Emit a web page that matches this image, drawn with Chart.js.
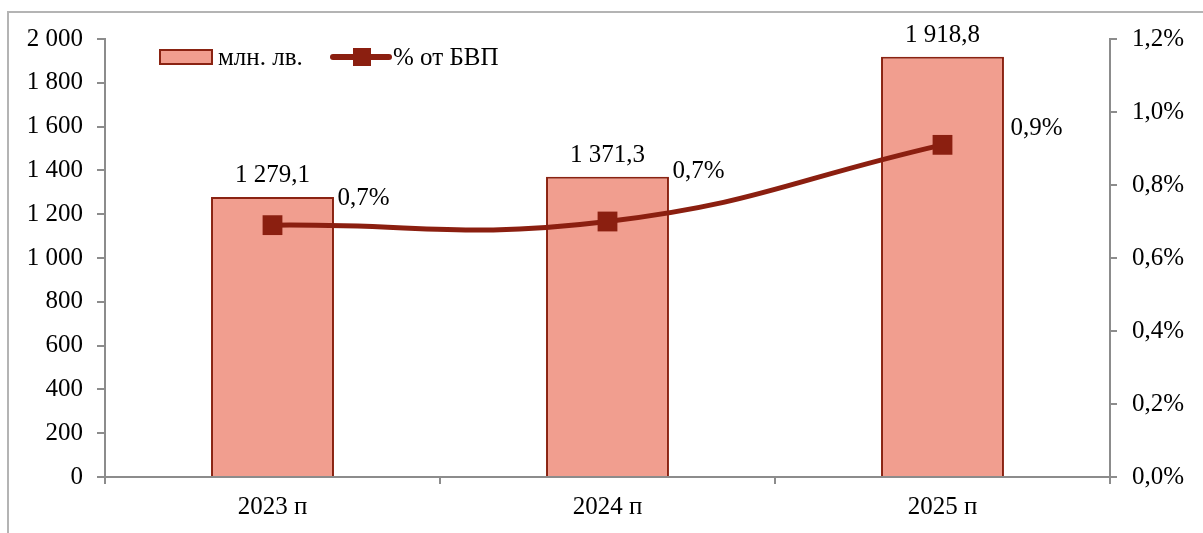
<!DOCTYPE html>
<html>
<head>
<meta charset="utf-8">
<script src="https://cdn.jsdelivr.net/npm/chart.js@4/dist/chart.umd.min.js"></script>
<style>
  html, body { margin: 0; padding: 0; background: #fff; }
  #wrap { width: 1203px; height: 533px; position: relative; }
</style>
</head>
<body>
<div id="wrap"><canvas id="chart"></canvas></div>
<script>
// data
var categories = ["2023 п", "2024 п", "2025 п"];
var amountValues = [1279.1, 1371.3, 1918.8];   // млн. лв.
var gdpShare = [0.69, 0.70, 0.91];              // % от БВП
var gdpLabels = ["0,7%", "0,7%", "0,9%"];
var seriesNames = ["млн. лв.", "% от БВП"];

var FONT = "'Liberation Serif', 'Times New Roman', serif";
var FSIZE = 25;
var barFill = "#F19E8F";
var barEdge = "#8A2312";
var lineColor = "#8B1F10";
var axisColor = "#8c8c8c";

function fmtThousands(v) {
    var s = Math.round(v).toString();
    return s.replace(/\B(?=(\d{3})+(?!\d))/g, " ");
}
function fmtAmount(v) {
    var parts = v.toFixed(1).split(".");
    return fmtThousands(parseInt(parts[0])) + "," + parts[1];
}

// where the % labels sit relative to their points (manually placed in the original)
var pctLabelShift = [[65, -27], [65, -50], [68, -16]];

var extras = {
    id: "extras",
    beforeDraw: function(chart) {
        var ctx = chart.ctx;
        ctx.save();
        ctx.strokeStyle = "#b4b4b4";
        ctx.lineWidth = 2;
        ctx.beginPath();
        ctx.moveTo(8, 533);
        ctx.lineTo(8, 12);
        ctx.lineTo(1203, 12);
        ctx.stroke();
        ctx.restore();
    },
    afterDatasetsDraw: function(chart) {
        var ctx = chart.ctx;
        var area = chart.chartArea;
        ctx.save();
        ctx.font = FSIZE + "px " + FONT;
        ctx.fillStyle = "#000";

        // bar value labels
        var bars = chart.getDatasetMeta(0).data;
        ctx.textAlign = "center";
        ctx.textBaseline = "middle";
        bars.forEach(function(el, i) {
            ctx.fillText(fmtAmount(amountValues[i]), el.x, el.y - 21);
        });

        // line value labels
        var pts = chart.getDatasetMeta(1).data;
        ctx.textAlign = "left";
        pts.forEach(function(el, i) {
            ctx.fillText(gdpLabels[i], el.x + pctLabelShift[i][0], el.y + pctLabelShift[i][1]);
        });

        // legend inside the plot
        var lx = area.left + 55, ly = area.top + 18;
        ctx.fillStyle = barFill;
        ctx.strokeStyle = barEdge;
        ctx.lineWidth = 2;
        ctx.fillRect(lx, ly - 7, 52, 14);
        ctx.strokeRect(lx, ly - 7, 52, 14);
        ctx.fillStyle = "#000";
        ctx.fillText(seriesNames[0], lx + 58, ly + 1);

        var mx = lx + 173;
        ctx.strokeStyle = lineColor;
        ctx.lineWidth = 6;
        ctx.lineCap = "round";
        ctx.beginPath();
        ctx.moveTo(mx, ly);
        ctx.lineTo(mx + 56, ly);
        ctx.stroke();
        ctx.fillStyle = lineColor;
        ctx.fillRect(mx + 20, ly - 9, 18, 18);
        ctx.fillStyle = "#000";
        ctx.fillText(seriesNames[1], mx + 60, ly + 1);
        ctx.restore();
    }
};

var tickFont = { family: FONT, size: FSIZE };

var config = {
    data: {
        labels: categories,
        datasets: [
            {
                type: "bar",
                label: seriesNames[0],
                data: amountValues,
                yAxisID: "y",
                backgroundColor: barFill,
                borderColor: barEdge,
                borderWidth: 2,
                borderSkipped: "bottom",
                barPercentage: 0.367,
                categoryPercentage: 1,
                order: 2
            },
            {
                type: "line",
                label: seriesNames[1],
                data: gdpShare,
                yAxisID: "y1",
                borderColor: lineColor,
                backgroundColor: lineColor,
                borderWidth: 5,
                tension: 0.45,
                pointStyle: "rect",
                pointRadius: 14,
                pointBorderWidth: 0,
                pointBackgroundColor: lineColor,
                order: 1
            }
        ]
    },
    options: {
        responsive: true,
        maintainAspectRatio: false,
        animation: false,
        layout: { padding: { top: 39, left: 0, right: 0, bottom: 0 } },
        plugins: {
            legend: { display: false },
            tooltip: { enabled: false },
            title: { display: false }
        },
        scales: {
            x: {
                offset: true,
                grid: { display: true, drawOnChartArea: false, offset: true, tickLength: 7, color: axisColor, lineWidth: 2 },
                border: { color: axisColor, width: 2 },
                ticks: { color: "#000", font: tickFont, padding: 8 },
                afterFit: function(scale) { scale.height = 56; }
            },
            y: {
                position: "left",
                min: 0,
                max: 2000,
                ticks: {
                    stepSize: 200,
                    color: "#000",
                    font: tickFont,
                    padding: 14,
                    callback: function(v) { return fmtThousands(v); }
                },
                grid: { drawOnChartArea: false, tickLength: 8, color: axisColor, lineWidth: 2 },
                border: { color: axisColor, width: 2 },
                afterFit: function(scale) { scale.width = 105; }
            },
            y1: {
                position: "right",
                min: 0,
                max: 1.2,
                ticks: {
                    stepSize: 0.2,
                    color: "#000",
                    font: tickFont,
                    padding: 15,
                    callback: function(v) { return v.toFixed(1).replace(".", ",") + "%"; }
                },
                grid: { drawOnChartArea: false, tickLength: 7, color: axisColor, lineWidth: 2 },
                border: { color: axisColor, width: 2 },
                afterFit: function(scale) { scale.width = 93; }
            }
        }
    },
    plugins: [extras]
};

new Chart(document.getElementById("chart"), config);
</script>
</body>
</html>
